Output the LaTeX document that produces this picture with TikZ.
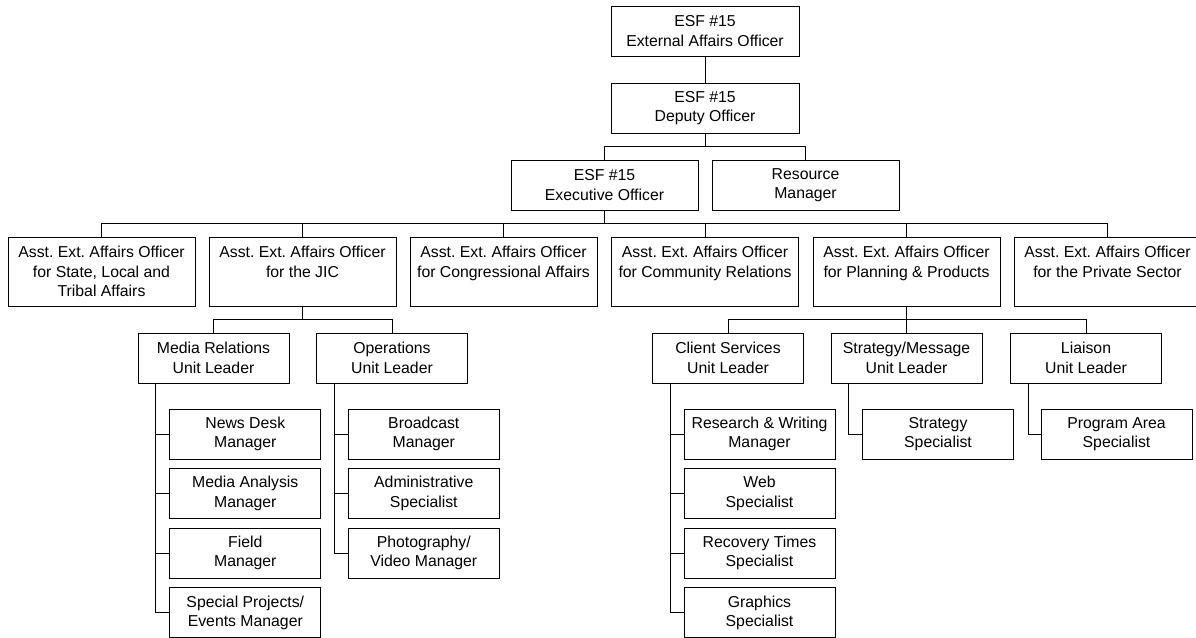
\documentclass[tikz,border=0pt]{standalone}
\usepackage{fontspec}
\setmainfont{Liberation Sans}
\frenchspacing
\begin{document}
\begin{tikzpicture}[x=1pt,y=-1pt,
  every node/.style={font=\fontsize{15.8}{19.5}\selectfont},
  box/.style={draw, line width=1pt, inner sep=0pt, align=center, minimum height=50pt},
  headbox/.style={box, minimum width=188pt},
  midbox/.style={box, minimum width=187pt},
  asstbox/.style={box, minimum width=187pt, minimum height=69pt},
  unitbox/.style={box, minimum width=151pt},
  link/.style={line width=1pt}]
\useasboundingbox (0,0) rectangle (1196,637);
\clip (0,0) rectangle (1196,637);

% top levels
\node[headbox] (top) at (705,31) {ESF \#15\\External Affairs Officer};
\node[headbox] (dep) at (705,108) {ESF \#15\\Deputy Officer};
\node[midbox] (exe) at (604.5,185) {ESF \#15\\Executive Officer};
\node[midbox] (res) at (805.5,185) {Resource\\Manager};

% assistant officers
\node[asstbox] (a1) at (101.5,271.5) {Asst. Ext. Affairs Officer\\for State, Local and\\Tribal Affairs};
\node[asstbox] (a2) at (302.5,271.5) {Asst. Ext. Affairs Officer\\for the JIC\\\mbox{}};
\node[asstbox] (a3) at (503.5,271.5) {Asst. Ext. Affairs Officer\\for Congressional Affairs\\\mbox{}};
\node[asstbox] (a4) at (705,271.5) {Asst. Ext. Affairs Officer\\for Community Relations\\\mbox{}};
\node[asstbox] (a5) at (906.5,271.5) {Asst. Ext. Affairs Officer\\for Planning \& Products\\\mbox{}};
\node[asstbox] (a6) at (1107.5,271.5) {Asst. Ext. Affairs Officer\\for the Private Sector\\\mbox{}};

% unit leaders
\node[unitbox] (mr) at (213.5,358) {Media Relations\\Unit Leader};
\node[unitbox] (op) at (392,358) {Operations\\Unit Leader};
\node[unitbox] (cs) at (728,358) {Client Services\\Unit Leader};
\node[unitbox] (sm) at (906.5,358) {Strategy/Message\\Unit Leader};
\node[unitbox] (li) at (1086,358) {Liaison\\Unit Leader};

% media relations staff
\node[unitbox] (n1) at (245.3,434) {News Desk\\Manager};
\node[unitbox] (n2) at (245.3,493.5) {Media Analysis\\Manager};
\node[unitbox] (n3) at (245.3,553) {Field\\Manager};
\node[unitbox] (n4) at (245.3,612.8) {Special Projects/\\Events Manager};

% operations staff
\node[unitbox] (o1) at (423.8,434) {Broadcast\\Manager};
\node[unitbox] (o2) at (423.8,493.5) {Administrative\\Specialist};
\node[unitbox] (o3) at (423.8,553) {Photography/\\Video Manager};

% client services staff
\node[unitbox] (c1) at (759.5,434) {Research \& Writing\\Manager};
\node[unitbox] (c2) at (759.5,493.5) {Web\\Specialist};
\node[unitbox] (c3) at (759.5,553) {Recovery Times\\Specialist};
\node[unitbox] (c4) at (759.5,612.8) {Graphics\\Specialist};

% strategy / liaison staff
\node[unitbox] (s1) at (938,434) {Strategy\\Specialist};
\node[unitbox] (l1) at (1116.5,434) {Program Area\\Specialist};

% connectors
\draw[link] (top.south) -- (dep.north);
\draw[link] (dep.south) -- ++(0,13) coordinate (b1);
\draw[link] (exe.north) |- (b1) -| (res.north);

\draw[link] (exe.south) -- ++(0,13) coordinate (b2);
\foreach \n in {a1,a2,a3,a4,a5,a6} \draw[link] (b2) -| (\n.north);

\draw[link] (a2.south) -- ++(0,13) coordinate (b3);
\draw[link] (mr.north) |- (b3) -| (op.north);

\draw[link] (a5.south) -- ++(0,13) coordinate (b4);
\draw[link] (cs.north) |- (b4) -| (li.north);
\draw[link] (b4) -- (sm.north);

\foreach \p/\c in {mr/n1,mr/n2,mr/n3,mr/n4,op/o1,op/o2,op/o3,cs/c1,cs/c2,cs/c3,cs/c4,sm/s1,li/l1}
  \draw[link] ([xshift=18pt]\p.south west) |- (\c.west);
\end{tikzpicture}
\end{document}
